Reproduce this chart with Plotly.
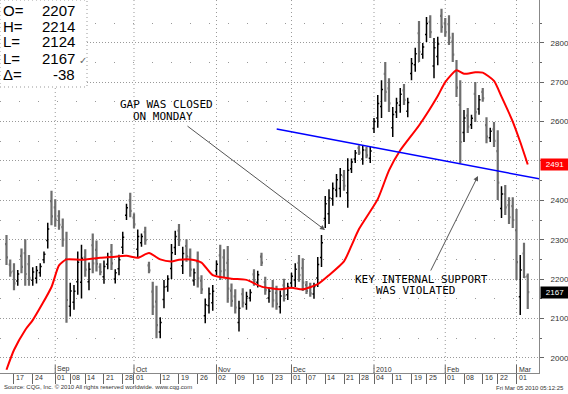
import pandas as pd
import plotly.graph_objects as go

# ---------------- data ----------------
holidays = ['2009-09-07', '2009-11-26', '2009-12-25', '2010-01-01', '2010-01-18', '2010-02-15']
days = [d.strftime('%Y-%m-%d') for d in pd.bdate_range('2009-08-13', '2010-03-04')
        if d.strftime('%Y-%m-%d') not in holidays]
day_pos = {d: k for k, d in enumerate(days)}

high = [2312, 2250, 2240, 2223, 2278, 2301, 2261, 2230, 2233, 2240,
        2270, 2343, 2424, 2403, 2375, 2354, 2320, 2191, 2185, 2270,
        2287, 2276, 2242, 2316, 2298, 2240, 2247, 2267, 2289, 2225,
        2262, 2320, 2391, 2419, 2367, 2326, 2316, 2333, 2244, 2193,
        2183, 2103, 2198, 2210, 2289, 2323, 2340, 2282, 2301, 2278,
        2227, 2270, 2210, 2151, 2179, 2185, 2247, 2287, 2276, 2284,
        2189, 2174, 2145, 2177, 2168, 2174, 2225, 2221, 2267, 2206,
        2179, 2198, 2183, 2171, 2201, 2191, 2216, 2240, 2261, 2253,
        2195, 2191, 2191, 2256, 2312, 2411, 2428, 2445, 2467, 2482,
        2477, 2507, 2506, 2528, 2540, 2540, 2535, 2535, 2609, 2667,
        2705, 2751, 2710, 2637, 2660, 2685, 2695, 2660, 2761, 2787,
        2855, 2799, 2865, 2870, 2812, 2815, 2886, 2863, 2870, 2825,
        2756, 2705, 2629, 2634, 2617, 2700, 2667, 2685, 2611, 2584,
        2599, 2578, 2436, 2439, 2408, 2408, 2378, 2261, 2292, 2214]
low = [2236, 2206, 2172, 2183, 2215, 2183, 2183, 2183, 2189, 2206,
       2240, 2278, 2337, 2333, 2325, 2282, 2089, 2105, 2122, 2160,
       2151, 2206, 2172, 2215, 2219, 2210, 2188, 2225, 2223, 2189,
       2210, 2264, 2350, 2357, 2329, 2255, 2282, 2287, 2215, 2109,
       2050, 2050, 2126, 2168, 2200, 2261, 2284, 2213, 2244, 2206,
       2183, 2179, 2162, 2088, 2113, 2120, 2210, 2198, 2205, 2140,
       2130, 2113, 2067, 2128, 2122, 2143, 2183, 2179, 2233, 2160,
       2140, 2128, 2122, 2113, 2143, 2147, 2179, 2180, 2193, 2170,
       2162, 2155, 2150, 2180, 2231, 2330, 2340, 2386, 2408, 2408,
       2424, 2381, 2469, 2495, 2515, 2490, 2507, 2495, 2571, 2584,
       2609, 2650, 2624, 2561, 2609, 2622, 2642, 2611, 2705, 2726,
       2751, 2759, 2802, 2812, 2710, 2743, 2825, 2815, 2794, 2751,
       2662, 2495, 2548, 2571, 2581, 2599, 2617, 2650, 2545, 2548,
       2535, 2401, 2355, 2363, 2340, 2330, 2198, 2109, 2203, 2124]
open_ = [2289, 2237, 2220, 2195, 2259, 2266, 2238, 2197, 2202, 2216,
         2249, 2298, 2398, 2382, 2360, 2332, 2251, 2131, 2141, 2193,
         2192, 2255, 2193, 2286, 2274, 2231, 2206, 2238, 2269, 2200,
         2226, 2281, 2362, 2400, 2356, 2276, 2292, 2319, 2235, 2168,
         2143, 2066, 2148, 2181, 2227, 2280, 2323, 2234, 2284, 2256,
         2196, 2243, 2196, 2107, 2133, 2140, 2221, 2260, 2255, 2241,
         2171, 2156, 2090, 2162, 2136, 2152, 2212, 2192, 2257, 2192,
         2152, 2177, 2165, 2130, 2184, 2160, 2190, 2198, 2241, 2228,
         2185, 2180, 2162, 2203, 2255, 2354, 2366, 2404, 2426, 2430,
         2461, 2419, 2480, 2505, 2533, 2505, 2527, 2507, 2582, 2609,
         2638, 2721, 2684, 2584, 2624, 2641, 2679, 2626, 2722, 2744,
         2824, 2771, 2821, 2853, 2741, 2765, 2868, 2849, 2847, 2803,
         2728, 2642, 2572, 2615, 2592, 2670, 2632, 2675, 2591, 2559,
         2580, 2525, 2379, 2416, 2388, 2385, 2324, 2155, 2265, 2207]
close = [2255, 2217, 2189, 2213, 2231, 2213, 2203, 2218, 2222, 2232,
         2263, 2327, 2359, 2351, 2338, 2300, 2147, 2170, 2169, 2243,
         2253, 2224, 2225, 2240, 2239, 2218, 2232, 2257, 2240, 2216,
         2249, 2306, 2381, 2373, 2339, 2308, 2308, 2299, 2222, 2130,
         2083, 2090, 2180, 2200, 2267, 2308, 2298, 2265, 2258, 2224,
         2216, 2202, 2174, 2135, 2163, 2169, 2238, 2220, 2223, 2176,
         2145, 2128, 2126, 2140, 2156, 2166, 2194, 2211, 2242, 2172,
         2169, 2146, 2137, 2157, 2158, 2180, 2207, 2225, 2210, 2191,
         2170, 2164, 2181, 2237, 2292, 2391, 2406, 2430, 2452, 2464,
         2437, 2476, 2497, 2520, 2521, 2528, 2514, 2525, 2600, 2646,
         2681, 2675, 2646, 2618, 2647, 2669, 2655, 2648, 2747, 2772,
         2777, 2789, 2849, 2827, 2787, 2797, 2840, 2827, 2813, 2770,
         2686, 2548, 2609, 2587, 2608, 2624, 2655, 2659, 2562, 2575,
         2551, 2445, 2416, 2382, 2357, 2350, 2243, 2223, 2205, 2167]

# moving average (red) read at trading-day numbers (0 = 2009-08-13)
ma_day = [0, 2, 5, 7, 12, 14, 16, 20, 25, 28,
          32, 35, 38, 41, 44, 46, 49, 52, 55, 60,
          64, 68, 73, 76, 79, 83, 86, 90, 92, 94,
          99, 102, 105, 110, 115, 117, 120, 122, 125, 127,
          130, 132, 135, 137, 139]
ma_val = [1970, 2020, 2071, 2096, 2180, 2235, 2250, 2249, 2254, 2256,
          2259, 2254, 2266, 2250, 2245, 2249, 2250, 2242, 2210, 2201,
          2198, 2181, 2174, 2178, 2174, 2187, 2210, 2245, 2285, 2327,
          2403, 2476, 2527, 2590, 2665, 2700, 2730, 2721, 2725, 2724,
          2703, 2663, 2600, 2548, 2491]

# blue trend line (trading-day number, value)
trend_day = [72.05, 142.3]
trend_val = [2581, 2454]

tick_dates = ['2009-08-17', '2009-08-24', '2009-09-01', '2009-09-08', '2009-09-14',
              '2009-09-21', '2009-09-28', '2009-10-01', '2009-10-12', '2009-10-19',
              '2009-10-26', '2009-11-02', '2009-11-09', '2009-11-16', '2009-11-23',
              '2009-12-01', '2009-12-07', '2009-12-14', '2009-12-21', '2009-12-28',
              '2010-01-04', '2010-01-11', '2010-01-19', '2010-01-25', '2010-02-01',
              '2010-02-08', '2010-02-16', '2010-02-22', '2010-03-01']
month_dates = ['2009-09-01', '2009-10-01', '2009-11-02', '2009-12-01',
               '2010-01-04', '2010-02-01', '2010-03-01']
month_labels = ['Sep', 'Oct', 'Nov', 'Dec', '2010', 'Feb', 'Mar']
y_ticks = [2000, 2100, 2200, 2300, 2400, 2500, 2600, 2700, 2800]
y_minor = [2050, 2150, 2250, 2350, 2450, 2550, 2650, 2750, 2850]

# ---------------- figure ----------------
W, H = 568, 394
PW, PH = 539, 373          # plot area in pixels


def px(v):
    return v / PW


def py(v):
    return 1 - v / PH


x = list(range(len(days)))
fig = go.Figure()

fig.add_trace(go.Ohlc(
    x=x, open=open_, high=high, low=low, close=close,
    increasing=dict(line=dict(color='#000000', width=1.5)),
    decreasing=dict(line=dict(color='#6e6e6e', width=2.2)),
    tickwidth=0.4, hoverinfo='skip'))

fig.add_trace(go.Scatter(x=ma_day, y=ma_val, mode='lines',
                         line=dict(color='#ff0000', width=2, shape='spline', smoothing=0.6),
                         hoverinfo='skip'))

fig.add_trace(go.Scatter(x=trend_day, y=trend_val, mode='lines',
                         line=dict(color='#0000ff', width=1.5), hoverinfo='skip'))

shapes = []
for d in month_dates:
    p = day_pos[d]
    shapes.append(dict(type='line', xref='x', yref='paper', x0=p, x1=p, y0=0, y1=1,
                       line=dict(color='#999999', width=1, dash='1px,3px'), layer='below'))
    shapes.append(dict(type='line', xref='x', yref='paper', x0=p, x1=p, y0=0, y1=8 / PH,
                       line=dict(color='#666666', width=1), layer='above'))
# O/H/L/C box
shapes.append(dict(type='rect', xref='paper', yref='paper', x0=0, x1=px(87), y0=py(87), y1=1,
                   fillcolor='white', line=dict(color='#999999', width=1, dash='1px,3px'),
                   layer='above'))

ann = []
mono = dict(family='DejaVu Sans Mono', size=11, color='#000000')
ann.append(dict(xref='paper', yref='paper', x=px(166.5), y=py(104.5), text='GAP WAS CLOSED',
                showarrow=False, font=mono, xanchor='center', yanchor='middle'))
ann.append(dict(xref='paper', yref='paper', x=px(163), y=py(116), text='ON MONDAY',
                showarrow=False, font=mono, xanchor='center', yanchor='middle'))
ann.append(dict(xref='paper', yref='paper', x=px(421.5), y=py(279), text='KEY INTERNAL SUPPORT',
                showarrow=False, font=mono, xanchor='center', yanchor='middle'))
ann.append(dict(xref='paper', yref='paper', x=px(415), y=py(290.5), text='WAS VIOLATED',
                showarrow=False, font=mono, xanchor='center', yanchor='middle'))
# arrows
ann.append(dict(xref='paper', yref='paper', x=px(325), y=py(230), ax=-139, ay=-105,
                text='', showarrow=True, arrowhead=2, arrowsize=1, arrowwidth=1,
                arrowcolor='#555555'))
ann.append(dict(xref='paper', yref='paper', x=px(478), y=py(176), ax=-48, ay=96,
                text='', showarrow=True, arrowhead=2, arrowsize=1, arrowwidth=1,
                arrowcolor='#555555'))

# O/H/L/C text
hdr_font = dict(family='Liberation Sans, Arial', size=15, color='#000000')
labels = ['O=', 'H=', 'L=', 'L=', 'Δ=']
values = [str(open_[-1]), str(high[-1]), str(low[-1]), str(close[-1]), str(close[-1] - close[-2])]
rows = [10, 26, 42, 58, 74]
for lab, val, r in zip(labels, values, rows):
    ann.append(dict(xref='paper', yref='paper', x=px(1), y=py(r), text=lab, showarrow=False,
                    font=hdr_font, xanchor='left', yanchor='middle'))
    ann.append(dict(xref='paper', yref='paper', x=px(77), y=py(r), text=val, showarrow=False,
                    font=hdr_font, xanchor='right', yanchor='middle'))
ann.append(dict(xref='paper', yref='paper', x=px(77), y=py(60), text='✓', showarrow=False,
                font=dict(family='DejaVu Sans', size=10, color='#666666'),
                xanchor='left', yanchor='middle'))

# date labels
for d in tick_dates:
    ann.append(dict(xref='x', yref='paper', x=day_pos[d], y=0, text=d[-2:], showarrow=False,
                    xanchor='left', yanchor='top', xshift=0, yshift=1,
                    font=dict(family='Liberation Sans, Arial', size=7, color='#333333')))
for d, m in zip(month_dates, month_labels):
    ann.append(dict(xref='x', yref='paper', x=day_pos[d], y=0, text=m, showarrow=False,
                    xanchor='left', yanchor='bottom', xshift=0, yshift=-2,
                    font=dict(family='Liberation Sans, Arial', size=7, color='#333333')))

# right-edge value labels
ann.append(dict(xref='paper', yref='y', x=1, y=ma_val[-1], text=str(ma_val[-1]), showarrow=False,
                xanchor='left', yanchor='middle', bgcolor='#ff0000', borderpad=1, width=26,
                xshift=1, font=dict(family='Liberation Sans, Arial', size=8, color='white')))
ann.append(dict(xref='paper', yref='y', x=1, y=close[-1], text=str(close[-1]), showarrow=False,
                xanchor='left', yanchor='middle', bgcolor='#000000', borderpad=1, width=26,
                xshift=1, font=dict(family='Liberation Sans, Arial', size=8, color='white')))

# footer
ann.append(dict(xref='paper', yref='paper', x=px(2), y=py(387),
                text='Source: CQG, Inc. © 2010 All rights reserved worldwide. www.cqg.com',
                showarrow=False, xanchor='left', yanchor='middle',
                font=dict(family='Liberation Sans, Arial', size=6, color='#333333')))
ann.append(dict(xref='paper', yref='paper', x=px(566), y=py(388),
                text='Fri Mar 05 2010 05:12:25', showarrow=False, xanchor='right', yanchor='middle',
                font=dict(family='Liberation Sans, Arial', size=6, color='#333333')))

fig.update_layout(
    width=W, height=H, margin=dict(l=0, r=W - PW, t=0, b=H - PH),
    paper_bgcolor='white', plot_bgcolor='white', showlegend=False,
    shapes=shapes, annotations=ann,
    xaxis=dict(range=[-1.73, 142.0], tickvals=[day_pos[d] for d in tick_dates],
               showticklabels=False, ticks='outside', ticklen=10, tickcolor='#666666',
               showgrid=False, zeroline=False, showline=True, linecolor='#888888',
               rangeslider=dict(visible=False), fixedrange=True),
    yaxis=dict(range=[1961.7, 2908.4], side='right', tickvals=y_ticks,
               ticktext=[str(v) for v in y_ticks], ticks='outside', ticklen=4,
               ticklabelstandoff=5,
               tickcolor='#666666', tickfont=dict(family='Liberation Sans, Arial', size=8,
                                                  color='#333333'),
               showgrid=True, gridcolor='#999999', griddash='1px,2px', gridwidth=1,
               minor=dict(tickvals=y_minor, showgrid=True, gridcolor='#999999',
                          griddash='1px,18px', ticks='outside', ticklen=2, tickcolor='#666666'),
               zeroline=False, showline=True, linecolor='#888888', automargin=False,
               fixedrange=True),
)

fig.write_html('out.html', config={'displayModeBar': False},
               post_script="document.body.style.margin='0';document.body.style.overflow='hidden';")
